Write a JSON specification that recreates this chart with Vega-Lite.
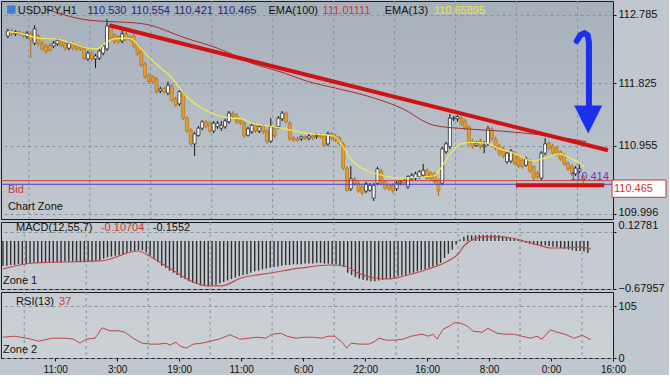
{
"$schema": "https://vega.github.io/schema/vega-lite/v6.json",
"padding": 0,
"background": "#c0c7ce",
"spacing": 3,
"bounds": "flush",
"config": {
 "font": "Liberation Sans",
 "view": {"stroke": "#1c1c1c", "strokeWidth": 1},
 "axis": {"labelFont": "Liberation Sans", "labelFontSize": 11, "labelColor": "#111111", "tickColor": "#111111", "tickSize": 3, "domain": false, "gridColor": "#8893a0", "gridDash": [3, 3], "gridWidth": 1, "labelOverlap": false, "labelPadding": 2}
},
"datasets": {
 "candles": [
{"t":0,"o":112.49,"h":112.59,"l":112.46,"c":112.56,"m":-0.35},
{"t":1,"o":112.56,"h":112.59,"l":112.49,"c":112.52,"m":-0.35},
{"t":2,"o":112.52,"h":112.57,"l":112.49,"c":112.55,"m":-0.34},
{"t":3,"o":112.55,"h":112.57,"l":112.49,"c":112.52,"m":-0.34},
{"t":4,"o":112.52,"h":112.55,"l":112.46,"c":112.49,"m":-0.33},
{"t":5,"o":112.48,"h":112.56,"l":112.45,"c":112.53,"m":-0.33},
{"t":6,"o":112.53,"h":112.56,"l":112.18,"c":112.42,"m":-0.33},
{"t":7,"o":112.39,"h":112.64,"l":112.36,"c":112.59,"m":-0.31},
{"t":8,"o":112.49,"h":112.52,"l":112.35,"c":112.38,"m":-0.31},
{"t":9,"o":112.39,"h":112.42,"l":112.28,"c":112.31,"m":-0.31},
{"t":10,"o":112.35,"h":112.38,"l":112.24,"c":112.27,"m":-0.31},
{"t":11,"o":112.36,"h":112.39,"l":112.27,"c":112.29,"m":-0.30},
{"t":12,"o":112.35,"h":112.42,"l":112.32,"c":112.39,"m":-0.30},
{"t":13,"o":112.38,"h":112.46,"l":112.35,"c":112.43,"m":-0.30},
{"t":14,"o":112.42,"h":112.45,"l":112.34,"c":112.36,"m":-0.30},
{"t":15,"o":112.38,"h":112.41,"l":112.28,"c":112.32,"m":-0.30},
{"t":16,"o":112.32,"h":112.42,"l":112.29,"c":112.39,"m":-0.29},
{"t":17,"o":112.38,"h":112.41,"l":112.29,"c":112.32,"m":-0.29},
{"t":18,"o":112.35,"h":112.38,"l":112.28,"c":112.31,"m":-0.29},
{"t":19,"o":112.34,"h":112.36,"l":112.28,"c":112.31,"m":-0.29},
{"t":20,"o":112.32,"h":112.35,"l":112.15,"c":112.18,"m":-0.30},
{"t":21,"o":112.17,"h":112.28,"l":112.14,"c":112.25,"m":-0.30},
{"t":22,"o":112.25,"h":112.28,"l":112.14,"c":112.17,"m":-0.29},
{"t":23,"o":112.17,"h":112.24,"l":112.04,"c":112.21,"m":-0.29},
{"t":24,"o":112.18,"h":112.31,"l":112.15,"c":112.28,"m":-0.28},
{"t":25,"o":112.25,"h":112.38,"l":112.22,"c":112.35,"m":-0.27},
{"t":26,"o":112.31,"h":112.73,"l":112.28,"c":112.63,"m":-0.25},
{"t":27,"o":112.62,"h":112.64,"l":112.43,"c":112.46,"m":-0.23},
{"t":28,"o":112.50,"h":112.53,"l":112.38,"c":112.41,"m":-0.22},
{"t":29,"o":112.48,"h":112.50,"l":112.38,"c":112.41,"m":-0.21},
{"t":30,"o":112.42,"h":112.60,"l":112.39,"c":112.52,"m":-0.20},
{"t":31,"o":112.52,"h":112.55,"l":112.42,"c":112.45,"m":-0.19},
{"t":32,"o":112.48,"h":112.50,"l":112.42,"c":112.45,"m":-0.17},
{"t":33,"o":112.49,"h":112.52,"l":112.32,"c":112.35,"m":-0.15},
{"t":34,"o":112.36,"h":112.39,"l":112.21,"c":112.24,"m":-0.14},
{"t":35,"o":112.28,"h":112.31,"l":112.06,"c":112.08,"m":-0.13},
{"t":36,"o":112.10,"h":112.13,"l":111.89,"c":111.92,"m":-0.13},
{"t":37,"o":111.94,"h":111.97,"l":111.82,"c":111.85,"m":-0.16},
{"t":38,"o":111.92,"h":111.94,"l":111.82,"c":111.85,"m":-0.21},
{"t":39,"o":111.89,"h":111.92,"l":111.68,"c":111.71,"m":-0.26},
{"t":40,"o":111.72,"h":111.78,"l":111.69,"c":111.75,"m":-0.30},
{"t":41,"o":111.75,"h":111.78,"l":111.68,"c":111.71,"m":-0.35},
{"t":42,"o":111.69,"h":111.85,"l":111.66,"c":111.80,"m":-0.38},
{"t":43,"o":111.79,"h":111.82,"l":111.57,"c":111.59,"m":-0.42},
{"t":44,"o":111.61,"h":111.64,"l":111.50,"c":111.52,"m":-0.45},
{"t":45,"o":111.54,"h":111.73,"l":111.51,"c":111.71,"m":-0.48},
{"t":46,"o":111.69,"h":111.72,"l":111.31,"c":111.34,"m":-0.52},
{"t":47,"o":111.34,"h":111.37,"l":111.13,"c":111.16,"m":-0.54},
{"t":48,"o":111.17,"h":111.20,"l":110.95,"c":110.98,"m":-0.57},
{"t":49,"o":110.98,"h":111.15,"l":110.81,"c":111.12,"m":-0.59},
{"t":50,"o":111.10,"h":111.23,"l":111.08,"c":111.20,"m":-0.61},
{"t":51,"o":111.20,"h":111.31,"l":111.17,"c":111.29,"m":-0.63},
{"t":52,"o":111.29,"h":111.31,"l":111.20,"c":111.23,"m":-0.64},
{"t":53,"o":111.27,"h":111.30,"l":111.13,"c":111.16,"m":-0.64},
{"t":54,"o":111.16,"h":111.30,"l":111.13,"c":111.27,"m":-0.63},
{"t":55,"o":111.22,"h":111.30,"l":111.19,"c":111.27,"m":-0.62},
{"t":56,"o":111.20,"h":111.30,"l":111.16,"c":111.24,"m":-0.60},
{"t":57,"o":111.22,"h":111.33,"l":111.19,"c":111.30,"m":-0.58},
{"t":58,"o":111.29,"h":111.44,"l":111.26,"c":111.41,"m":-0.56},
{"t":59,"o":111.41,"h":111.44,"l":111.34,"c":111.37,"m":-0.54},
{"t":60,"o":111.38,"h":111.41,"l":111.26,"c":111.29,"m":-0.52},
{"t":61,"o":111.31,"h":111.34,"l":111.24,"c":111.27,"m":-0.50},
{"t":62,"o":111.27,"h":111.30,"l":111.06,"c":111.09,"m":-0.48},
{"t":63,"o":111.10,"h":111.22,"l":111.08,"c":111.19,"m":-0.47},
{"t":64,"o":111.15,"h":111.27,"l":111.12,"c":111.24,"m":-0.45},
{"t":65,"o":111.24,"h":111.27,"l":111.13,"c":111.16,"m":-0.43},
{"t":66,"o":111.16,"h":111.24,"l":111.13,"c":111.22,"m":-0.42},
{"t":67,"o":111.23,"h":111.26,"l":111.12,"c":111.15,"m":-0.40},
{"t":68,"o":111.16,"h":111.19,"l":110.98,"c":111.01,"m":-0.39},
{"t":69,"o":111.02,"h":111.34,"l":110.99,"c":111.22,"m":-0.38},
{"t":70,"o":111.20,"h":111.23,"l":111.06,"c":111.09,"m":-0.37},
{"t":71,"o":111.22,"h":111.37,"l":111.19,"c":111.34,"m":-0.36},
{"t":72,"o":111.33,"h":111.44,"l":111.30,"c":111.41,"m":-0.35},
{"t":73,"o":111.40,"h":111.43,"l":111.26,"c":111.29,"m":-0.34},
{"t":74,"o":111.27,"h":111.30,"l":111.02,"c":111.05,"m":-0.34},
{"t":75,"o":111.06,"h":111.09,"l":111.01,"c":111.03,"m":-0.33},
{"t":76,"o":111.05,"h":111.08,"l":111.01,"c":111.03,"m":-0.33},
{"t":77,"o":111.05,"h":111.10,"l":111.02,"c":111.08,"m":-0.33},
{"t":78,"o":111.08,"h":111.10,"l":111.03,"c":111.06,"m":-0.32},
{"t":79,"o":111.06,"h":111.12,"l":111.03,"c":111.09,"m":-0.32},
{"t":80,"o":111.09,"h":111.12,"l":111.03,"c":111.06,"m":-0.32},
{"t":81,"o":111.08,"h":111.13,"l":111.05,"c":111.10,"m":-0.31},
{"t":82,"o":111.10,"h":111.13,"l":111.05,"c":111.08,"m":-0.31},
{"t":83,"o":111.09,"h":111.12,"l":110.94,"c":110.96,"m":-0.32},
{"t":84,"o":110.98,"h":111.15,"l":110.95,"c":111.12,"m":-0.32},
{"t":85,"o":111.12,"h":111.15,"l":111.03,"c":111.06,"m":-0.33},
{"t":86,"o":111.09,"h":111.12,"l":111.01,"c":111.03,"m":-0.33},
{"t":87,"o":111.06,"h":111.09,"l":110.95,"c":110.98,"m":-0.34},
{"t":88,"o":110.98,"h":111.01,"l":110.61,"c":110.64,"m":-0.37},
{"t":89,"o":110.64,"h":110.67,"l":110.31,"c":110.33,"m":-0.45},
{"t":90,"o":110.35,"h":110.67,"l":110.32,"c":110.49,"m":-0.48},
{"t":91,"o":110.49,"h":110.52,"l":110.39,"c":110.42,"m":-0.51},
{"t":92,"o":110.43,"h":110.46,"l":110.29,"c":110.32,"m":-0.53},
{"t":93,"o":110.38,"h":110.40,"l":110.26,"c":110.29,"m":-0.55},
{"t":94,"o":110.32,"h":110.45,"l":110.29,"c":110.42,"m":-0.56},
{"t":95,"o":110.33,"h":110.43,"l":110.31,"c":110.40,"m":-0.57},
{"t":96,"o":110.22,"h":110.43,"l":110.18,"c":110.40,"m":-0.57},
{"t":97,"o":110.43,"h":110.66,"l":110.40,"c":110.63,"m":-0.56},
{"t":98,"o":110.60,"h":110.63,"l":110.40,"c":110.43,"m":-0.55},
{"t":99,"o":110.45,"h":110.47,"l":110.33,"c":110.36,"m":-0.54},
{"t":100,"o":110.40,"h":110.43,"l":110.32,"c":110.35,"m":-0.53},
{"t":101,"o":110.40,"h":110.43,"l":110.29,"c":110.32,"m":-0.52},
{"t":102,"o":110.35,"h":110.46,"l":110.32,"c":110.43,"m":-0.50},
{"t":103,"o":110.43,"h":110.47,"l":110.40,"c":110.45,"m":-0.49},
{"t":104,"o":110.47,"h":110.50,"l":110.40,"c":110.43,"m":-0.48},
{"t":105,"o":110.38,"h":110.54,"l":110.35,"c":110.52,"m":-0.46},
{"t":106,"o":110.49,"h":110.57,"l":110.46,"c":110.54,"m":-0.45},
{"t":107,"o":110.50,"h":110.59,"l":110.47,"c":110.56,"m":-0.43},
{"t":108,"o":110.52,"h":110.61,"l":110.49,"c":110.59,"m":-0.41},
{"t":109,"o":110.54,"h":110.70,"l":110.52,"c":110.61,"m":-0.40},
{"t":110,"o":110.61,"h":110.64,"l":110.47,"c":110.50,"m":-0.38},
{"t":111,"o":110.57,"h":110.60,"l":110.46,"c":110.49,"m":-0.36},
{"t":112,"o":110.56,"h":110.59,"l":110.42,"c":110.45,"m":-0.34},
{"t":113,"o":110.47,"h":110.50,"l":110.25,"c":110.32,"m":-0.31},
{"t":114,"o":110.43,"h":110.94,"l":110.40,"c":110.91,"m":-0.24},
{"t":115,"o":110.87,"h":111.01,"l":110.84,"c":110.98,"m":-0.18},
{"t":116,"o":110.94,"h":111.40,"l":110.91,"c":111.34,"m":-0.12},
{"t":117,"o":111.33,"h":111.37,"l":111.30,"c":111.34,"m":-0.05},
{"t":118,"o":111.33,"h":111.38,"l":111.29,"c":111.36,"m":0.02},
{"t":119,"o":111.34,"h":111.37,"l":111.23,"c":111.26,"m":0.06},
{"t":120,"o":111.30,"h":111.33,"l":111.17,"c":111.20,"m":0.08},
{"t":121,"o":111.22,"h":111.24,"l":110.95,"c":110.98,"m":0.08},
{"t":122,"o":111.02,"h":111.05,"l":110.91,"c":110.94,"m":0.08},
{"t":123,"o":110.96,"h":111.02,"l":110.94,"c":110.99,"m":0.085},
{"t":124,"o":111.02,"h":111.05,"l":110.91,"c":110.94,"m":0.085},
{"t":125,"o":110.94,"h":111.02,"l":110.85,"c":110.96,"m":0.085},
{"t":126,"o":110.98,"h":111.23,"l":110.95,"c":111.19,"m":0.09},
{"t":127,"o":111.19,"h":111.22,"l":111.02,"c":111.05,"m":0.085},
{"t":128,"o":111.05,"h":111.08,"l":110.89,"c":110.92,"m":0.08},
{"t":129,"o":110.95,"h":110.98,"l":110.81,"c":110.84,"m":0.07},
{"t":130,"o":110.91,"h":110.94,"l":110.78,"c":110.81,"m":0.06},
{"t":131,"o":110.73,"h":110.88,"l":110.70,"c":110.85,"m":0.05},
{"t":132,"o":110.74,"h":110.91,"l":110.71,"c":110.88,"m":0.04},
{"t":133,"o":110.85,"h":110.88,"l":110.68,"c":110.71,"m":0.02},
{"t":134,"o":110.81,"h":110.84,"l":110.64,"c":110.67,"m":-0.01},
{"t":135,"o":110.75,"h":110.78,"l":110.63,"c":110.66,"m":-0.03},
{"t":136,"o":110.68,"h":110.80,"l":110.66,"c":110.77,"m":-0.04},
{"t":137,"o":110.74,"h":110.77,"l":110.57,"c":110.60,"m":-0.05},
{"t":138,"o":110.66,"h":110.68,"l":110.46,"c":110.50,"m":-0.06},
{"t":139,"o":110.57,"h":110.60,"l":110.49,"c":110.52,"m":-0.07},
{"t":140,"o":110.50,"h":110.88,"l":110.47,"c":110.85,"m":-0.06},
{"t":141,"o":110.85,"h":111.06,"l":110.82,"c":110.98,"m":-0.07},
{"t":142,"o":110.99,"h":111.02,"l":110.89,"c":110.92,"m":-0.08},
{"t":143,"o":110.95,"h":110.98,"l":110.82,"c":110.85,"m":-0.09},
{"t":144,"o":110.92,"h":110.95,"l":110.81,"c":110.84,"m":-0.10},
{"t":145,"o":110.87,"h":110.89,"l":110.74,"c":110.77,"m":-0.11},
{"t":146,"o":110.82,"h":110.85,"l":110.67,"c":110.70,"m":-0.12},
{"t":147,"o":110.71,"h":110.74,"l":110.60,"c":110.63,"m":-0.13},
{"t":148,"o":110.67,"h":110.70,"l":110.53,"c":110.56,"m":-0.14},
{"t":149,"o":110.56,"h":110.67,"l":110.53,"c":110.64,"m":-0.14},
{"t":150,"o":110.60,"h":110.71,"l":110.57,"c":110.63,"m":-0.15},
{"t":151,"o":110.53,"h":110.554,"l":110.421,"c":110.465,"m":-0.17}
 ],
 "ema13": [
{"t":0,"p":112.55},{"t":3.9,"p":112.52},{"t":8,"p":112.46},{"t":12.4,"p":112.45},{"t":16.8,"p":112.39},{"t":20.9,"p":112.32},{"t":23.5,"p":112.31},{"t":25.3,"p":112.38},{"t":27.9,"p":112.45},{"t":31.3,"p":112.46},{"t":32.5,"p":112.45},{"t":34.9,"p":112.31},{"t":37.5,"p":112.17},{"t":39.5,"p":112.07},{"t":42.6,"p":111.93},{"t":46.8,"p":111.65},{"t":51.1,"p":111.47},{"t":55.5,"p":111.37},{"t":58.9,"p":111.34},{"t":61.5,"p":111.33},{"t":64,"p":111.27},{"t":68.4,"p":111.23},{"t":71.8,"p":111.2},{"t":75.2,"p":111.16},{"t":78.3,"p":111.13},{"t":85.5,"p":111.09},{"t":87.8,"p":110.95},{"t":90.4,"p":110.74},{"t":94.5,"p":110.6},{"t":98.9,"p":110.53},{"t":103.3,"p":110.5},{"t":111.8,"p":110.53},{"t":113.6,"p":110.64},{"t":116.2,"p":110.85},{"t":118.8,"p":110.98},{"t":122.1,"p":111.0},{"t":125.5,"p":110.99},{"t":129.1,"p":110.91},{"t":133.3,"p":110.84},{"t":137.6,"p":110.74},{"t":141,"p":110.78},{"t":144.6,"p":110.84},{"t":148,"p":110.77},{"t":151.3,"p":110.659}
 ],
 "ema100": [
{"t":9.8,"p":112.87},{"t":21.4,"p":112.71},{"t":27.9,"p":112.69},{"t":35.6,"p":112.66},{"t":46.7,"p":112.46},{"t":55.5,"p":112.31},{"t":64,"p":112.11},{"t":72.6,"p":111.97},{"t":78.3,"p":111.86},{"t":86,"p":111.76},{"t":94.3,"p":111.65},{"t":103.3,"p":111.48},{"t":111.8,"p":111.24},{"t":120.3,"p":111.19},{"t":129.1,"p":111.16},{"t":137.6,"p":111.12},{"t":146.2,"p":111.06},{"t":151.8,"p":111.011}
 ],
 "sig": [
{"t":0,"m":-0.397},{"t":8,"m":-0.312},{"t":25.3,"m":-0.283},{"t":34.9,"m":-0.142},{"t":38.2,"m":-0.227},{"t":43.4,"m":-0.397},{"t":48.6,"m":-0.567},{"t":53,"m":-0.637},{"t":56.3,"m":-0.637},{"t":61.5,"m":-0.524},{"t":69.2,"m":-0.453},{"t":77,"m":-0.382},{"t":84.7,"m":-0.34},{"t":88.1,"m":-0.354},{"t":91.7,"m":-0.453},{"t":95.8,"m":-0.524},{"t":99.4,"m":-0.538},{"t":103.6,"m":-0.496},{"t":109.8,"m":-0.397},{"t":114.9,"m":-0.283},{"t":117.5,"m":-0.184},{"t":119,"m":-0.071},{"t":121.6,"m":0.028},{"t":124.2,"m":0.057},{"t":127.8,"m":0.057},{"t":131.2,"m":0.042},{"t":134.5,"m":0},{"t":138.2,"m":-0.057},{"t":141.5,"m":-0.099},{"t":144.9,"m":-0.099},{"t":148.5,"m":-0.085},{"t":151.8,"m":-0.113}
 ],
 "rsi": [
{"t":0,"r":42},{"t":2.9,"r":44},{"t":6.2,"r":40},{"t":9.3,"r":34},{"t":12.7,"r":40},{"t":16,"r":40},{"t":18.3,"r":38},{"t":19.9,"r":30},{"t":21.4,"r":38},{"t":23.8,"r":40},{"t":25.6,"r":61},{"t":27.6,"r":55},{"t":30,"r":55},{"t":31.5,"r":52},{"t":33.6,"r":40},{"t":35.9,"r":30},{"t":38.2,"r":28},{"t":40.3,"r":28},{"t":42.1,"r":30},{"t":43.1,"r":26},{"t":44.7,"r":32},{"t":45.7,"r":24},{"t":47.5,"r":20},{"t":49.1,"r":28},{"t":51.4,"r":30},{"t":53.5,"r":34},{"t":55.8,"r":38},{"t":58.6,"r":47},{"t":61.2,"r":38},{"t":63.5,"r":40},{"t":65.6,"r":42},{"t":67.9,"r":40},{"t":69.5,"r":48},{"t":71.8,"r":50},{"t":73.3,"r":44},{"t":75.7,"r":40},{"t":77.7,"r":42},{"t":80.1,"r":42},{"t":82.4,"r":40},{"t":83.9,"r":44},{"t":85.5,"r":44},{"t":87.3,"r":34},{"t":88.8,"r":20},{"t":89.9,"r":30},{"t":92.2,"r":28},{"t":94.5,"r":28},{"t":96.1,"r":34},{"t":97.1,"r":40},{"t":98.9,"r":36},{"t":101,"r":36},{"t":103.3,"r":38},{"t":105.4,"r":44},{"t":108.2,"r":48},{"t":109.8,"r":44},{"t":111,"r":48},{"t":112.1,"r":38},{"t":113.6,"r":58},{"t":115.4,"r":65},{"t":116.5,"r":71},{"t":118,"r":71},{"t":119.8,"r":65},{"t":121.4,"r":54},{"t":123.7,"r":52},{"t":125.2,"r":60},{"t":127.6,"r":50},{"t":129.6,"r":48},{"t":132,"r":48},{"t":134,"r":44},{"t":136.3,"r":40},{"t":137.9,"r":44},{"t":139.2,"r":38},{"t":141.3,"r":57},{"t":143.1,"r":52},{"t":145.1,"r":48},{"t":147.5,"r":40},{"t":149.5,"r":46},{"t":151.8,"r":37}
 ],
 "vgrid": [{"t":5.5},{"t":21.5},{"t":37.5},{"t":53.5},{"t":69.5},{"t":85.5},{"t":101.5},{"t":117.5},{"t":133.5},{"t":149.5}],
 "lines": [
{"g":"trend","t":26.6,"p":112.64},{"g":"trend","t":157.5,"p":110.89},
{"g":"support","t":133.3,"p":110.40},{"g":"support","t":156.5,"p":110.40}
 ],
 "arrow": [
{"o":1,"t":149.3,"p":112.42},{"o":2,"t":150.2,"p":112.50},{"o":3,"t":151.3,"p":112.53},{"o":4,"t":152.2,"p":112.50},{"o":5,"t":152.5,"p":112.40},{"o":6,"t":152.5,"p":111.50}
 ],
 "arrowhead": [{"t":152.3,"p":111.32}],
 "icon": [{"t":0.9,"p":112.86}],
 "levels": [{"k":"bid","p":110.465},{"k":"ask","p":110.414}],
 "pricebox": [{"p":110.465,"s":"110.465"}],
 "main_notes": [
{"t":2.6,"p":112.84,"s":"USDJPY,H1","k":"lab"},
{"t":20.9,"p":112.84,"s":"110.530","k":"ohlc"},
{"t":32.3,"p":112.84,"s":"110.554","k":"ohlc"},
{"t":43.6,"p":112.84,"s":"110.421","k":"ohlc"},
{"t":55.0,"p":112.84,"s":"110.465","k":"ohlc"},
{"t":68.4,"p":112.84,"s":"EMA(100)","k":"lab"},
{"t":82.6,"p":112.84,"s":"111.01111","k":"red"},
{"t":98.9,"p":112.84,"s":"EMA(13)","k":"lab"},
{"t":111.8,"p":112.84,"s":"110.65895","k":"yel"},
{"t":0,"p":110.33,"s":"Bid","k":"red"},
{"t":0,"p":110.10,"s":"Chart Zone","k":"lab"},
{"t":147.5,"p":110.52,"s":"110.414","k":"ask"}
 ],
 "macd_notes": [
{"t":3.4,"m":0.184,"s":"MACD(12,55,7)","k":"lab"},
{"t":25.3,"m":0.184,"s":"-0.10704","k":"red"},
{"t":38.7,"m":0.184,"s":"-0.1552","k":"lab"},
{"t":0,"m":-0.567,"s":"Zone 1","k":"lab"}
 ],
 "rsi_notes": [
{"t":3.4,"r":113,"s":"RSI(13)","k":"lab"},
{"t":14.5,"r":113,"s":"37","k":"red"},
{"t":0,"r":16,"s":"Zone 2","k":"lab"}
 ]
},
"vconcat": [
 {
  "width": 612, "height": 218,
  "view": {"fill": {"gradient": "linear", "x1": 0, "y1": 0, "x2": 0, "y2": 1, "stops": [{"offset": 0, "color": "#a6b0bb"}, {"offset": 1, "color": "#c2c8cf"}]}, "stroke": "#1c1c1c"},
  "layer": [
   {"data": {"name": "vgrid"}, "mark": {"type": "rule", "color": "#8893a0", "strokeDash": [3, 3], "strokeWidth": 1},
    "encoding": {"x": {"field": "t", "type": "quantitative", "title": null, "axis": null, "scale": {"domain": [-0.5, 157.5], "nice": false, "zero": false}}}},
   {"data": {"name": "candles"}, "mark": {"type": "rule", "strokeWidth": 1},
    "encoding": {
     "x": {"field": "t", "type": "quantitative", "title": null, "axis": null},
     "y": {"field": "l", "type": "quantitative", "title": null, "scale": {"domain": [109.928, 112.98], "nice": false, "zero": false},
           "axis": {"orient": "right", "values": [112.785,112.26,111.825,111.39,110.955,110.52,109.996], "format": ".3f", "grid": true, "title": null,
                    "labelOffset": {"condition": {"test": "datum.value < 110", "value": -2}, "value": 0}}},
     "y2": {"field": "h"},
     "stroke": {"condition": {"test": "datum.c >= datum.o", "value": "#151515"}, "value": "#a8701e"}
    }},
   {"data": {"name": "candles"}, "mark": {"type": "bar", "width": 3, "strokeWidth": 0.7},
    "encoding": {
     "x": {"field": "t", "type": "quantitative", "title": null, "axis": null},
     "y": {"field": "o", "type": "quantitative", "title": null, "scale": {"zero": false}},
     "y2": {"field": "c"},
     "fill": {"condition": {"test": "datum.c >= datum.o", "value": "#ffffff"}, "value": "#e39d2e"},
     "stroke": {"condition": {"test": "datum.c >= datum.o", "value": "#151515"}, "value": "#b07420"}
    }},
   {"data": {"name": "ema100"}, "mark": {"type": "line", "color": "#a82c2c", "strokeWidth": 1, "interpolate": "monotone", "clip": true},
    "encoding": {"x": {"field": "t", "type": "quantitative", "title": null, "axis": null}, "y": {"field": "p", "type": "quantitative", "title": null}}},
   {"data": {"name": "ema13"}, "mark": {"type": "line", "color": "#f0ec50", "strokeWidth": 1.2, "interpolate": "monotone", "clip": true},
    "encoding": {"x": {"field": "t", "type": "quantitative", "title": null, "axis": null}, "y": {"field": "p", "type": "quantitative", "title": null}}},
   {"data": {"name": "levels"}, "mark": {"type": "rule", "strokeWidth": 1},
    "encoding": {"y": {"field": "p", "type": "quantitative", "title": null},
     "stroke": {"field": "k", "type": "nominal", "scale": {"domain": ["bid", "ask"], "range": ["#c8413c", "#5a3cc4"]}, "legend": null}}},
   {"data": {"name": "lines"}, "mark": {"type": "line", "color": "#d01212", "strokeWidth": 4, "clip": true},
    "encoding": {"x": {"field": "t", "type": "quantitative", "title": null, "axis": null}, "y": {"field": "p", "type": "quantitative", "title": null}, "detail": {"field": "g"}}},
   {"data": {"name": "arrow"}, "mark": {"type": "line", "color": "#1b30ec", "strokeWidth": 6, "strokeCap": "round", "strokeJoin": "round", "clip": true},
    "encoding": {"x": {"field": "t", "type": "quantitative", "title": null, "axis": null}, "y": {"field": "p", "type": "quantitative", "title": null}, "order": {"field": "o"}}},
   {"data": {"name": "arrowhead"}, "mark": {"type": "point", "shape": "M-1,-1L1,-1L0,1Z", "size": 784, "filled": true, "fill": "#1b30ec", "opacity": 1, "strokeWidth": 0},
    "encoding": {"x": {"field": "t", "type": "quantitative", "title": null, "axis": null}, "y": {"field": "p", "type": "quantitative", "title": null}}},
   {"data": {"name": "icon"}, "mark": {"type": "square", "size": 70, "filled": true, "color": "#3b7fd4", "opacity": 1},
    "encoding": {"x": {"field": "t", "type": "quantitative", "title": null, "axis": null}, "y": {"field": "p", "type": "quantitative", "title": null}}},
   {"data": {"name": "main_notes"}, "mark": {"type": "text", "align": "left", "baseline": "middle", "fontSize": 11},
    "encoding": {"x": {"field": "t", "type": "quantitative", "title": null, "axis": null}, "y": {"field": "p", "type": "quantitative", "title": null}, "text": {"field": "s"},
     "color": {"field": "k", "type": "nominal", "scale": {"domain": ["lab", "ohlc", "red", "yel", "ask"], "range": ["#111111", "#22237c", "#cf3636", "#ece72c", "#5a3cc4"]}, "legend": null}}},
   {"data": {"name": "pricebox"}, "mark": {"type": "point", "shape": "M-1,-0.32L1,-0.32L1,0.32L-1,0.32Z", "size": 2916, "filled": true, "fill": "#ffffff", "stroke": "#cc3333", "strokeWidth": 1, "opacity": 1, "xOffset": 31, "yOffset": 8},
    "encoding": {"x": {"datum": 157.5, "type": "quantitative", "axis": null}, "y": {"field": "p", "type": "quantitative", "title": null}}},
   {"data": {"name": "pricebox"}, "mark": {"type": "text", "align": "left", "baseline": "middle", "dx": 6, "dy": 8, "fontSize": 11, "color": "#cc3333"},
    "encoding": {"x": {"datum": 157.5, "type": "quantitative", "axis": null}, "y": {"field": "p", "type": "quantitative", "title": null}, "text": {"field": "s"}}}
  ]
 },
 {
  "width": 612, "height": 67,
  "view": {"fill": {"gradient": "linear", "x1": 0, "y1": 0, "x2": 0, "y2": 1, "stops": [{"offset": 0, "color": "#c3c9d0"}, {"offset": 1, "color": "#c8cdd3"}]}, "stroke": "#1c1c1c"},
  "layer": [
   {"data": {"name": "vgrid"}, "mark": {"type": "rule", "color": "#8893a0", "strokeDash": [3, 3], "strokeWidth": 1},
    "encoding": {"x": {"field": "t", "type": "quantitative", "title": null, "axis": null, "scale": {"domain": [-0.5, 157.5], "nice": false, "zero": false}}}},
   {"data": {"name": "candles"}, "mark": {"type": "rule", "color": "#2e2e2e", "strokeWidth": 1.4},
    "encoding": {
     "x": {"field": "t", "type": "quantitative", "title": null, "axis": null},
     "y": {"field": "m", "type": "quantitative", "title": null, "scale": {"domain": [-0.68, 0.269], "nice": false, "zero": false},
           "axis": {"orient": "right", "values": [0.12781, -0.67957], "format": ".5f", "grid": true, "title": null,
                    "labelOffset": {"condition": {"test": "datum.value > 0", "value": -6}, "value": 0}}},
     "y2": {"datum": 0}
    }},
   {"data": {"name": "sig"}, "mark": {"type": "line", "color": "#c44848", "strokeWidth": 1.2, "interpolate": "monotone"},
    "encoding": {"x": {"field": "t", "type": "quantitative", "title": null, "axis": null}, "y": {"field": "m", "type": "quantitative", "title": null}}},
   {"data": {"name": "macd_notes"}, "mark": {"type": "text", "align": "left", "baseline": "middle", "fontSize": 11},
    "encoding": {"x": {"field": "t", "type": "quantitative", "title": null, "axis": null}, "y": {"field": "m", "type": "quantitative", "title": null}, "text": {"field": "s"},
     "color": {"field": "k", "type": "nominal", "scale": {"domain": ["lab", "red"], "range": ["#111111", "#cf3636"]}, "legend": null}}}
  ]
 },
 {
  "width": 612, "height": 66,
  "view": {"fill": {"gradient": "linear", "x1": 0, "y1": 0, "x2": 0, "y2": 1, "stops": [{"offset": 0, "color": "#c8cdd3"}, {"offset": 1, "color": "#ccd1d6"}]}, "stroke": "#1c1c1c"},
  "layer": [
   {"data": {"name": "vgrid"}, "mark": {"type": "rule", "color": "#8893a0", "strokeDash": [3, 3], "strokeWidth": 1},
    "encoding": {"x": {"field": "t", "type": "quantitative", "title": null, "scale": {"domain": [-0.5, 157.5], "nice": false, "zero": false},
           "axis": {"orient": "bottom", "values": [13.5,29.5,45.5,61.5,77.5,93.5,109.5,125.5,141.5,157.5], "grid": false, "ticks": true, "labelFlush": false, "labelFontSize": 10, "labelPadding": 3, "title": null,
                    "labelExpr": "['11:00','3:00','19:00','11:00','6:00','22:00','16:00','8:00','0:00','16:00'][round((datum.value-13.5)/16)]"}}}},
   {"data": {"name": "rsi"}, "mark": {"type": "line", "color": "#c04646", "strokeWidth": 1},
    "encoding": {
     "x": {"field": "t", "type": "quantitative", "title": null},
     "y": {"field": "r", "type": "quantitative", "title": null, "scale": {"domain": [0, 133.3], "nice": false, "zero": false},
           "axis": {"orient": "right", "values": [105, 70, 30, 0], "grid": true, "title": null}}
    }},
   {"data": {"name": "rsi_notes"}, "mark": {"type": "text", "align": "left", "baseline": "middle", "fontSize": 11},
    "encoding": {
     "x": {"field": "t", "type": "quantitative", "title": null},
     "y": {"field": "r", "type": "quantitative", "title": null}, "text": {"field": "s"},
     "color": {"field": "k", "type": "nominal", "scale": {"domain": ["lab", "red"], "range": ["#111111", "#cf3636"]}, "legend": null}}}
  ]
 }
]
}
